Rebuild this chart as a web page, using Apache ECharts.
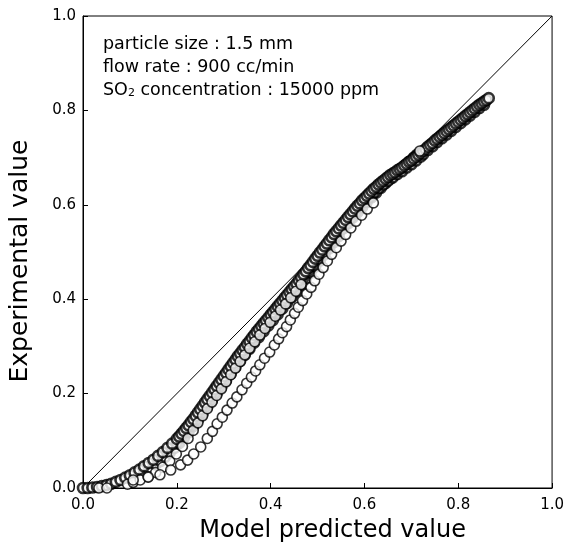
<!DOCTYPE html>
<html><head><meta charset="utf-8">
<script src="https://cdn.jsdelivr.net/npm/echarts@6/dist/echarts.min.js"></script>
<style>html,body{margin:0;padding:0;background:#fff}#c{width:567px;height:550px}</style>
</head><body><div id="c"></div>
<script>
const xTicks = [0, 0.2, 0.4, 0.6, 0.8, 1.0];
const parityLine = [[0, 0], [1, 1]];
const notes = ['particle size : 1.5 mm', 'flow rate : 900 cc/min', 'SO{s|2} concentration : 15000 ppm'];
// densest run (upper edge of the band)
const runA = [
[0.000,0.000],[0.010,0.000],[0.020,0.001],[0.030,0.002],[0.040,0.004],[0.050,0.006],[0.060,0.009],[0.070,0.013],
[0.080,0.017],[0.090,0.022],[0.100,0.027],[0.110,0.033],[0.120,0.039],[0.130,0.046],[0.140,0.053],[0.150,0.060],
[0.160,0.068],[0.170,0.076],[0.180,0.085],[0.190,0.094],[0.200,0.104],[0.205,0.109],[0.210,0.115],[0.215,0.121],
[0.220,0.127],[0.225,0.133],[0.230,0.140],[0.235,0.146],[0.240,0.153],[0.245,0.160],[0.250,0.167],[0.255,0.174],
[0.260,0.181],[0.265,0.188],[0.270,0.195],[0.275,0.202],[0.280,0.209],[0.285,0.216],[0.290,0.223],[0.295,0.230],
[0.300,0.237],[0.305,0.244],[0.310,0.251],[0.315,0.258],[0.320,0.265],[0.325,0.272],[0.330,0.279],[0.335,0.285],
[0.340,0.292],[0.345,0.298],[0.350,0.305],[0.355,0.311],[0.360,0.318],[0.365,0.324],[0.370,0.331],[0.375,0.337],
[0.380,0.343],[0.385,0.349],[0.390,0.355],[0.395,0.361],[0.400,0.367],[0.405,0.373],[0.410,0.379],[0.415,0.385],
[0.420,0.391],[0.425,0.397],[0.430,0.403],[0.435,0.409],[0.440,0.415],[0.445,0.421],[0.450,0.427],[0.455,0.433],
[0.460,0.440],[0.465,0.446],[0.470,0.453],[0.475,0.459],[0.480,0.466],[0.485,0.472],[0.490,0.479],[0.495,0.486],
[0.500,0.492],[0.505,0.499],[0.510,0.505],[0.515,0.512],[0.520,0.518],[0.525,0.525],[0.530,0.531],[0.535,0.538],
[0.540,0.544],[0.545,0.550],[0.550,0.556],[0.555,0.562],[0.560,0.568],[0.565,0.574],[0.570,0.580],[0.575,0.586],
[0.580,0.592],[0.585,0.598],[0.590,0.603],[0.595,0.609],[0.600,0.614],[0.605,0.619],[0.610,0.624],[0.615,0.629],
[0.620,0.634],[0.625,0.638],[0.630,0.643],[0.635,0.647],[0.640,0.651],[0.645,0.655],[0.650,0.659],[0.655,0.663],
[0.660,0.666],[0.665,0.669],[0.670,0.673],[0.675,0.676],[0.680,0.679],[0.685,0.683],[0.690,0.687],[0.695,0.691],
[0.700,0.694],[0.705,0.698],[0.710,0.702],[0.715,0.706],[0.720,0.710],[0.725,0.714],[0.730,0.718],[0.735,0.723],
[0.740,0.727],[0.745,0.731],[0.750,0.736],[0.755,0.740],[0.760,0.744],[0.765,0.748],[0.770,0.752],[0.775,0.756],
[0.780,0.760],[0.785,0.764],[0.790,0.768],[0.795,0.772],[0.800,0.776],[0.805,0.780],[0.810,0.784],[0.815,0.788],
[0.820,0.792],[0.825,0.796],[0.830,0.800],[0.835,0.804],[0.840,0.808],[0.845,0.812],[0.850,0.815],[0.855,0.819],
[0.860,0.822],[0.865,0.826]
];
// run just under the upper edge (fills the band)
const runF = [
[0.20,0.096],[0.21,0.107],[0.22,0.119],[0.23,0.132],[0.24,0.145],[0.25,0.159],[0.26,0.173],[0.27,0.187],
[0.28,0.201],[0.29,0.215],[0.30,0.229],[0.31,0.243],[0.32,0.257],[0.33,0.271],[0.34,0.284],[0.35,0.297],
[0.36,0.310],[0.37,0.323],[0.38,0.335],[0.39,0.347],[0.40,0.359],[0.41,0.371],[0.42,0.383],[0.43,0.395],
[0.44,0.407],[0.45,0.419],[0.46,0.432],[0.47,0.445],[0.48,0.458],[0.49,0.471],[0.50,0.484],[0.51,0.497],
[0.52,0.510],[0.53,0.523],[0.54,0.536],[0.55,0.548],[0.56,0.560],[0.57,0.572],[0.58,0.584],[0.59,0.595],
[0.60,0.606],[0.61,0.616],[0.62,0.626],[0.63,0.635],[0.64,0.643],[0.65,0.651],[0.66,0.658],[0.67,0.665],
[0.68,0.671],[0.69,0.679],[0.70,0.686],[0.71,0.694],[0.72,0.702]
];
// run along the top end of the band
const runE = [
[0.725,0.707],[0.735,0.716],[0.745,0.724],[0.755,0.733],[0.765,0.741],[0.775,0.749],[0.785,0.757],[0.795,0.765],
[0.805,0.773],[0.815,0.781],[0.825,0.789],[0.835,0.797],[0.845,0.805],[0.855,0.812]
];
// second dense run (inside the band)
const runB = [
[0.155,0.050],[0.165,0.057],[0.175,0.066],[0.185,0.075],[0.195,0.085],[0.205,0.095],[0.215,0.106],[0.225,0.118],
[0.235,0.131],[0.245,0.144],[0.255,0.158],[0.265,0.172],[0.275,0.186],[0.285,0.200],[0.295,0.214],[0.305,0.228],
[0.315,0.242],[0.325,0.256],[0.335,0.269],[0.345,0.282],[0.355,0.295],[0.365,0.308],[0.375,0.320],[0.385,0.332],
[0.395,0.344],[0.405,0.356],[0.415,0.368],[0.425,0.380],[0.435,0.392],[0.445,0.404],[0.455,0.417],[0.465,0.430],
[0.475,0.443],[0.485,0.456],[0.495,0.469],[0.505,0.482],[0.515,0.495],[0.525,0.508],[0.535,0.521],[0.545,0.534],
[0.555,0.550],[0.565,0.561],[0.575,0.573],[0.585,0.584],[0.595,0.595],[0.605,0.606],[0.615,0.616],[0.625,0.626],
[0.635,0.636],[0.645,0.646],[0.655,0.655],[0.665,0.664],[0.675,0.673],[0.685,0.682],[0.695,0.691],[0.705,0.700],
[0.712,0.706]
];
// single open circle lying on the band near 0.72 (end of a run)
const runBEnd = [[0.718,0.714]];
// middle run (visible circles just below the band)
const runC = [
[0.095,0.008],[0.107,0.012],[0.122,0.017],[0.139,0.024],[0.155,0.033],[0.170,0.044],[0.185,0.057],[0.199,0.072],
[0.212,0.088],[0.224,0.105],[0.235,0.122],[0.245,0.138],[0.255,0.153],[0.265,0.168],[0.275,0.182],[0.285,0.196],
[0.295,0.210],[0.305,0.225],[0.315,0.240],[0.325,0.254],[0.335,0.268],[0.345,0.282],[0.355,0.296],[0.366,0.310],
[0.377,0.324],[0.388,0.338],[0.399,0.351],[0.410,0.364],[0.421,0.377],[0.432,0.390],[0.443,0.403],[0.454,0.417],
[0.465,0.431]
];
// outer run (lowest curve)
const runD = [
[0.034,0.000],[0.051,0.000],[0.107,0.017],[0.139,0.023],[0.164,0.028],[0.187,0.038],[0.208,0.049],[0.223,0.059],
[0.236,0.072],[0.251,0.087],[0.265,0.105],[0.276,0.120],[0.286,0.136],[0.297,0.150],[0.307,0.165],[0.318,0.180],
[0.328,0.193],[0.339,0.208],[0.349,0.222],[0.359,0.235],[0.368,0.248],[0.377,0.261],[0.387,0.275],[0.398,0.288],
[0.408,0.303],[0.417,0.316],[0.425,0.329],[0.434,0.342],[0.442,0.356],[0.451,0.370],[0.459,0.383],[0.468,0.397],
[0.477,0.411],[0.486,0.425],[0.494,0.439],[0.503,0.453],[0.512,0.467],[0.521,0.481],[0.530,0.495],[0.540,0.509],
[0.550,0.523],[0.560,0.537],[0.571,0.551],[0.582,0.565],[0.594,0.578],[0.606,0.591],[0.619,0.604]
];

const FONT = 'DejaVu Sans';
const chart = echarts.init(document.getElementById('c'), null, {renderer: 'canvas'});
const circleSeries = (name, data, bw) => ({
  name, type: 'scatter', data, symbol: 'circle', symbolSize: 10,
  itemStyle: {color: '#fff', borderColor: '#000', borderWidth: bw},
  emphasis: {disabled: true}, z: 3
});
const axisCommon = {
  type: 'value', min: 0, max: 1, interval: 0.2,
  axisLine: {show: true, lineStyle: {color: '#000', width: 1}},
  axisTick: {show: true, inside: true, length: 5, lineStyle: {color: '#000'}},
  splitLine: {show: false},
  axisLabel: {color: '#000', fontFamily: FONT, fontSize: 15, formatter: v => v.toFixed(1)},
  nameLocation: 'middle'
};
chart.setOption({
  animation: false,
  backgroundColor: '#fff',
  grid: {left: 79, right: 12, top: 16, bottom: 62, show: true, borderColor: '#000', borderWidth: 1},
  xAxis: Object.assign({}, axisCommon, {name: 'Model predicted value', nameGap: 31,
    nameTextStyle: {color: '#000', fontFamily: FONT, fontSize: 24, padding: [0, 0, 0, 30]},
    axisLabel: Object.assign({}, axisCommon.axisLabel, {margin: 10})}),
  yAxis: Object.assign({}, axisCommon, {name: 'Experimental value', nameGap: 50,
    nameTextStyle: {color: '#000', fontFamily: FONT, fontSize: 25, padding: [0, 18, 0, 0]},
    axisLabel: Object.assign({}, axisCommon.axisLabel, {margin: 7})}),
  series: [
    {type: 'line', data: parityLine, showSymbol: false, lineStyle: {color: '#000', width: 1}, z: 2, silent: true},
    circleSeries('B', runB, 2.6),
    circleSeries('F', runF, 2.6),
    circleSeries('E', runE, 2.6),
    circleSeries('A', runA, 2.6),
    circleSeries('Bend', runBEnd, 1.6),
    circleSeries('C', runC, 1.6),
    circleSeries('D', runD, 1.6)
  ],
  graphic: notes.map((t, i) => ({
    type: 'text', left: 103, top: 35 + i * 23, z: 10,
    style: {
      text: t, fill: '#000', font: '17.5px "' + FONT + '"',
      rich: {s: {fontSize: 11, fontFamily: FONT, verticalAlign: 'bottom', lineHeight: 10, fill: '#000'}}
    }
  }))
});
</script></body></html>
